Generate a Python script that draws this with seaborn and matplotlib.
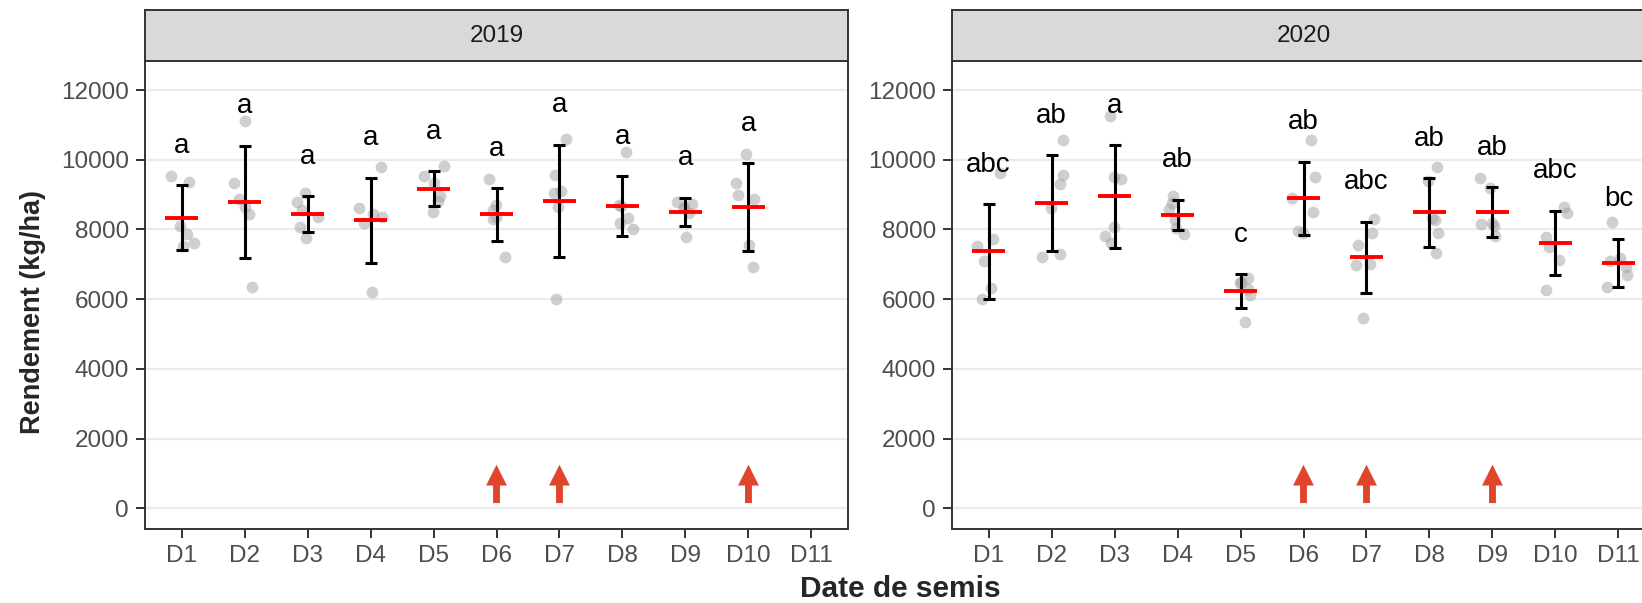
import numpy as np
import pandas as pd
import matplotlib
matplotlib.use("Agg")
import matplotlib.pyplot as plt
import seaborn as sns

# Sowing dates shared by both seasons
dates = ["D1", "D2", "D3", "D4", "D5", "D6", "D7", "D8", "D9", "D10", "D11"]
years = ["2019", "2020"]

# Individual plot yields (kg/ha) per sowing date
points_2019 = [
    [9544, 9372, 8101, 7872, 7623, 7528],
    [11111, 9324, 8866, 8655, 8445, 6362],
    [9038, 8799, 8560, 8369, 8082, 7748],
    [9802, 8627, 8445, 8369, 8178, 6218],
    [9821, 9535, 9343, 8961, 8827, 8512],
    [9439, 8703, 8560, 8369, 8292, 7222],
    [10586, 9563, 9105, 9057, 8655, 6008],
    [10213, 8700, 8675, 8321, 8178, 8006],
    [8800, 8732, 8655, 8608, 8483, 7795],
    [10165, 9343, 8990, 8866, 7557, 6916],
    [],
]
points_2020 = [
    [9630, 7728, 7528, 7098, 6333, 6001],
    [10567, 9563, 9296, 8608, 7300, 7222],
    [11255, 9496, 9449, 8082, 7814, 7604],
    [8961, 8770, 8579, 8274, 8053, 7872],
    [6600, 6505, 6457, 6300, 6123, 5358],
    [10567, 9496, 8900, 8512, 7967, 7900],
    [8292, 7910, 7557, 7000, 6983, 5454],
    [9783, 9401, 8321, 8274, 7891, 7318],
    [9487, 9181, 8178, 8150, 8090, 7814],
    [8655, 8483, 7795, 7509, 7127, 6266],
    [8225, 7174, 7100, 6935, 6696, 6343],
]

# Mean and standard deviation per sowing date
mean_2019 = [8335, 8790, 8445, 8265, 9170, 8435, 8827, 8675, 8512, 8645, np.nan]
sd_2019 = [931, 1615, 511, 1218, 492, 755, 1605, 860, 401, 1252, np.nan]
mean_2020 = [7370, 8755, 8945, 8415, 6235, 8894, 7195, 8490, 8490, 7620, 7045]
sd_2020 = [1352, 1376, 1466, 440, 488, 1051, 1027, 984, 717, 922, 692]

# Mean-comparison groups
letters_2019 = ["a", "a", "a", "a", "a", "a", "a", "a", "a", "a", ""]
letters_2020 = ["abc", "ab", "a", "ab", "c", "ab", "abc", "ab", "ab", "abc", "bc"]

# Highlighted sowing dates
arrows_2019 = ["D6", "D7", "D10"]
arrows_2020 = ["D6", "D7", "D9"]

yticks = [0, 2000, 4000, 6000, 8000, 10000, 12000]

season = {
    "2019": (points_2019, mean_2019, sd_2019, letters_2019, arrows_2019),
    "2020": (points_2020, mean_2020, sd_2020, letters_2020, arrows_2020),
}

sns.set_theme(style="white")
plt.rcParams["font.family"] = ["Liberation Sans", "DejaVu Sans"]
np.random.seed(7)

W, H = 1642, 603
fig = plt.figure(figsize=(W / 100, H / 100), dpi=100)


def box(x0, y0, x1, y1):
    """Axes rectangle from pixel edges measured from the top-left corner."""
    return [x0 / W, 1 - y1 / H, (x1 - x0) / W, (y1 - y0) / H]


panel_x = {"2019": (145, 848), "2020": (952, 1655)}
strip_top, panel_top, panel_bottom = 10, 61, 529
border = "#333333"
arrow_color = "#E0442B"

for year in years:
    pts, means, sds, letters, arrows = season[year]
    x0, x1 = panel_x[year]
    ax = fig.add_axes(box(x0, panel_top, x1, panel_bottom))

    df = pd.DataFrame(
        [(d, v) for d, vals in zip(dates, pts) for v in vals],
        columns=["date", "rendement"],
    )
    sns.stripplot(data=df, x="date", y="rendement", order=dates, jitter=0.2,
                  color="#A0A0A0", alpha=0.5, size=8.5, linewidth=0,
                  ax=ax, zorder=2)

    xs = np.arange(len(dates))
    m = np.array(means, dtype=float)
    s = np.array(sds, dtype=float)
    ok = ~np.isnan(m)
    ax.errorbar(xs[ok], m[ok], yerr=s[ok], fmt="none", ecolor="black",
                elinewidth=2.2, capsize=4.3, capthick=2.2, zorder=3)
    ax.hlines(m[ok], xs[ok] - 0.26, xs[ok] + 0.26, colors="red",
              linewidth=2.8, zorder=4)

    for x, mu, sd, lab in zip(xs, m, s, letters):
        if lab and not np.isnan(mu):
            ax.text(x, mu + sd + 1130, lab, ha="center", va="center",
                    fontsize=20, color="black", zorder=5)

    for d in arrows:
        xa = dates.index(d)
        ax.annotate("", xy=(xa, 1250), xytext=(xa, 150),
                    arrowprops=dict(arrowstyle="simple,head_length=1.0,head_width=1.0,tail_width=0.33",
                                    mutation_scale=15, color=arrow_color,
                                    shrinkA=0, shrinkB=0, lw=0),
                    zorder=5)

    ax.set_xlim(-0.58, 10.58)
    ax.set_ylim(-594, 12832)
    ax.set_yticks(yticks)
    ax.set_yticklabels([str(t) for t in yticks])
    ax.set_xlabel("")
    ax.set_ylabel("")
    ax.set_axisbelow(True)
    ax.yaxis.grid(True, color="#EBEBEB", linewidth=1.6)
    ax.xaxis.grid(False)
    for sp in ax.spines.values():
        sp.set_color(border)
        sp.set_linewidth(1.4)
        sp.set_visible(True)
    ax.tick_params(axis="both", direction="out", length=6.5, width=1.4,
                   color=border, labelcolor="#4D4D4D", labelsize=17.5, pad=5,
                   left=True, bottom=True)

    strip = fig.add_axes(box(x0, strip_top, x1, panel_top))
    strip.set_facecolor("#D9D9D9")
    strip.set_xticks([])
    strip.set_yticks([])
    for sp in strip.spines.values():
        sp.set_color(border)
        sp.set_linewidth(1.4)
    strip.text(0.5, 0.5, year, transform=strip.transAxes, ha="center",
               va="center", fontsize=17.5, color="#1A1A1A")

fig.text(900 / W, 1 - 589 / H, "Date de semis", ha="center", va="center",
         fontsize=21.5, fontweight="bold")
fig.text(33 / W, 1 - 312 / H, "Rendement (kg/ha)", ha="center", va="center",
         rotation=90, fontsize=19.5, fontweight="bold")

fig.savefig("out.png", dpi=100)
